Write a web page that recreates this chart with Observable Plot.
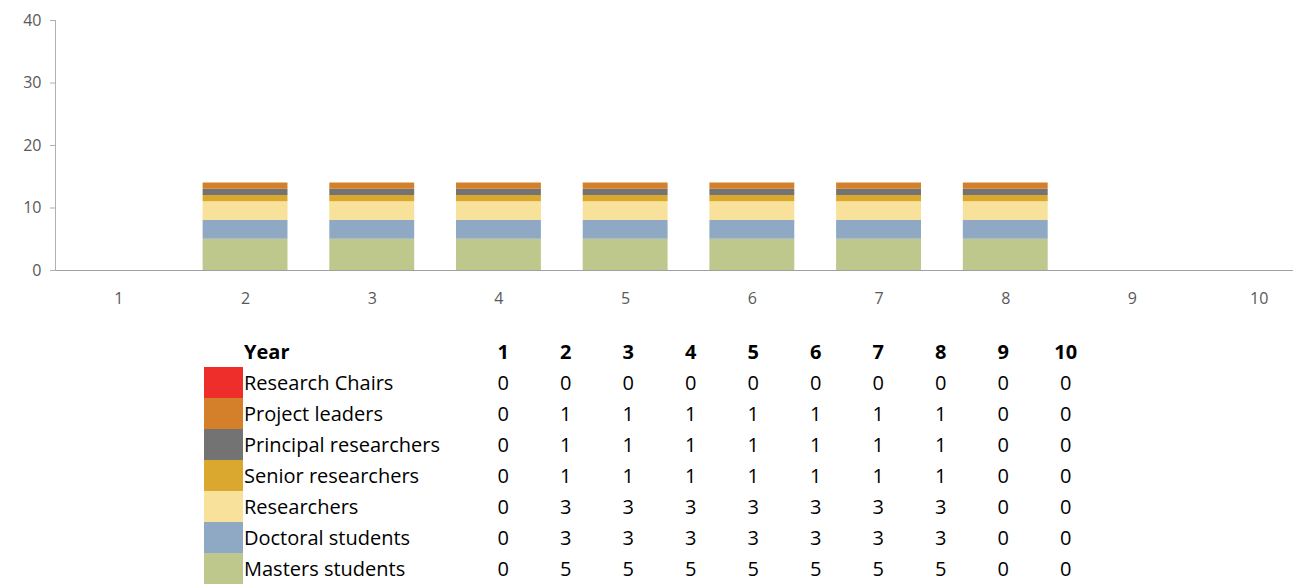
<!DOCTYPE html>
<html>
<head>
<meta charset="utf-8">
<script src="https://cdn.jsdelivr.net/npm/d3@7"></script>
<script src="https://cdn.jsdelivr.net/npm/@observablehq/plot@0.6"></script>
<style>
  html, body { margin: 0; padding: 0; background: #fff; overflow: hidden; }
  #chart svg { display: block; max-width: none !important; }
  table.data { border-collapse: collapse; margin-left: 204px; margin-top: 16px;
    font-family: "Open Sans", Lato, sans-serif; font-size: 20px; color: #000; }
  table.data td { padding: 0; height: 31px; line-height: 31px; white-space: nowrap; }
  table.data td.sw { width: 39px; }
  table.data td.lab { width: 228px; padding-left: 1px; }
  table.data td.num { width: 62.5px; text-align: center; }
  table.data tr.head td { font-weight: bold; }
</style>
</head>
<body>
<div id="chart"></div>
<div id="legend"></div>
<script>
const years = [1, 2, 3, 4, 5, 6, 7, 8, 9, 10];
const seriesNames = ["Research Chairs", "Project leaders", "Principal researchers", "Senior researchers", "Researchers", "Doctoral students", "Masters students"];
const seriesColors = ["#ee2e2b", "#d4802a", "#737373", "#daa82e", "#f7e19b", "#8fa9c4", "#bec88d"];
const researchChairs      = [0, 0, 0, 0, 0, 0, 0, 0, 0, 0];
const projectLeaders      = [0, 1, 1, 1, 1, 1, 1, 1, 0, 0];
const principalResearchers= [0, 1, 1, 1, 1, 1, 1, 1, 0, 0];
const seniorResearchers   = [0, 1, 1, 1, 1, 1, 1, 1, 0, 0];
const researchers         = [0, 3, 3, 3, 3, 3, 3, 3, 0, 0];
const doctoralStudents    = [0, 3, 3, 3, 3, 3, 3, 3, 0, 0];
const mastersStudents     = [0, 5, 5, 5, 5, 5, 5, 5, 0, 0];
const yTicks = [0, 10, 20, 30, 40];

const seriesValues = [researchChairs, projectLeaders, principalResearchers, seniorResearchers, researchers, doctoralStudents, mastersStudents];

// long format, bottom of stack first (Masters students)
const rows = [];
for (let s = seriesNames.length - 1; s >= 0; s--) {
  years.forEach((yr, i) => rows.push({year: yr, series: seriesNames[s], value: seriesValues[s][i]}));
}

const chart = Plot.plot({
  width: 1322,
  height: 320,
  marginLeft: 55,
  marginRight: 0,
  marginTop: 20,
  marginBottom: 50,
  style: {fontFamily: "'Open Sans', Lato, sans-serif", fontSize: "16px", background: "#fff", overflow: "visible"},
  x: {domain: years, paddingInner: 0.33, paddingOuter: 0.165, round: false},
  y: {domain: [0, 40]},
  color: {domain: seriesNames, range: seriesColors},
  marks: [
    Plot.barY(rows, {x: "year", y: "value", fill: "series", order: null}),
    Plot.ruleY([0], {stroke: "#a0a0a0", strokeWidth: 1.2}),
    Plot.frame({anchor: "left", stroke: "#b0b0b0"}),
    Plot.axisY({ticks: yTicks, tickSize: 5, tickPadding: 9, stroke: "#b0b0b0", fill: "#595959", label: null}),
    Plot.axisX({tickSize: 0, tickPadding: 22, fill: "#595959", label: null})
  ]
});
document.getElementById("chart").appendChild(chart);

// data table legend
const table = document.createElement("table");
table.className = "data";
const head = document.createElement("tr");
head.className = "head";
head.innerHTML = `<td class="sw"></td><td class="lab">Year</td>` + years.map(y => `<td class="num">${y}</td>`).join("");
table.appendChild(head);
seriesNames.forEach((name, s) => {
  const tr = document.createElement("tr");
  tr.innerHTML = `<td class="sw" style="background:${seriesColors[s]}"></td><td class="lab">${name}</td>` +
    seriesValues[s].map(v => `<td class="num">${v}</td>`).join("");
  table.appendChild(tr);
});
document.getElementById("legend").appendChild(table);
</script>
</body>
</html>
